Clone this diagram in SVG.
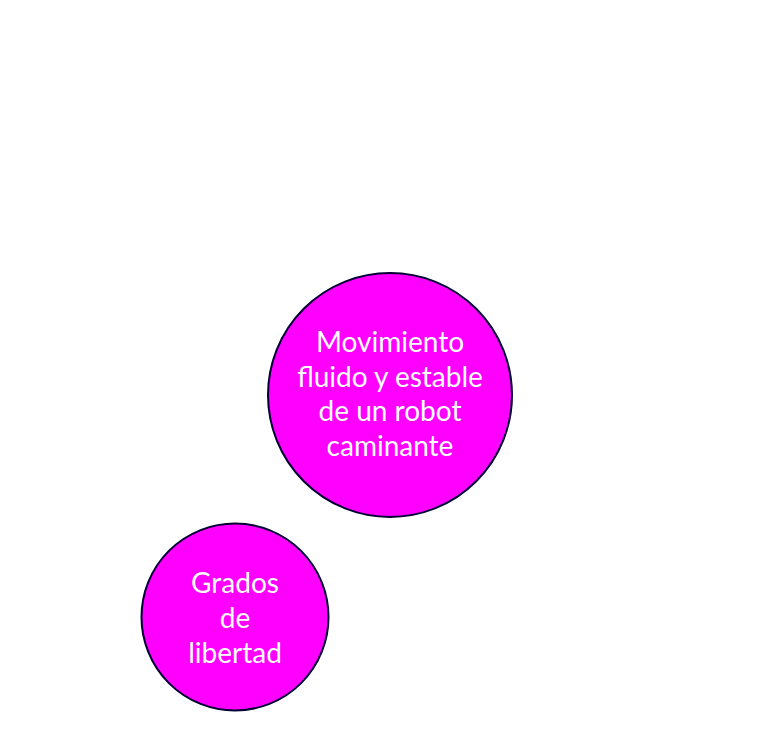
<svg xmlns="http://www.w3.org/2000/svg" width="760" height="731" viewBox="0 0 760 731">
<style>
.node{fill:#ff00ff;stroke:#000033;stroke-width:2}
.lbl{font-family:Lato,"Liberation Sans",sans-serif;font-size:28px;fill:#ffffff;text-anchor:middle}
</style>
<rect width="760" height="731" fill="#ffffff"/>
<g id="connectors"></g>
<g id="node-movimiento">
<circle class="node" cx="390" cy="395" r="122"/>
<text class="lbl"><tspan x="390" y="352">Movimiento</tspan><tspan x="390" y="387">fluido y estable</tspan><tspan x="390" y="421">de un robot</tspan><tspan x="390" y="456">caminante</tspan></text>
</g>
<g id="node-grados">
<circle class="node" cx="235" cy="617" r="93.5"/>
<text class="lbl"><tspan x="235" y="593">Grados</tspan><tspan x="235" y="628">de</tspan><tspan x="235" y="663">libertad</tspan></text>
</g>
</svg>
